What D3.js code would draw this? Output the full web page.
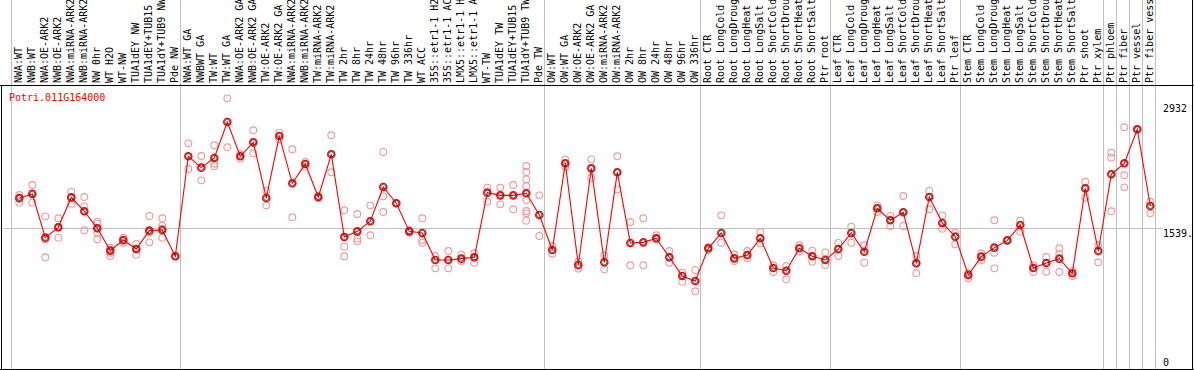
<!DOCTYPE html>
<html>
<head>
<meta charset="utf-8">
<script src="https://cdn.jsdelivr.net/npm/d3@7"></script>
<style>
  body { margin: 0; background: #fff; }
  svg { display: block; font-family: "DejaVu Sans Mono", monospace; font-size: 10px; }
</style>
</head>
<body>
<div id="chart"></div>
<script>
const W = 1194, H = 370;

const gene = "Potri.011G164000";

const labels = [
  "NWA:WT", "NWB:WT", "NWA:OE-ARK2", "NWB:OE-ARK2", "NWA:miRNA-ARK2", "NWB:miRNA-ARK2",
  "NW 0hr", "WT H2O", "WT-NW", "TUA1dEY NW", "TUA1dEY+TUB15", "TUA1dY+TUB9 NW", "Pde NW",
  "NWA:WT GA", "NWBWT GA", "TW:WT", "TW:WT GA", "NWA:OE-ARK2 GA", "NWB:OE-ARK2 GA",
  "TW:OE-ARK2", "TW:OE-ARK2 GA", "NWA:miRNA-ARK2", "NWB:miRNA-ARK2", "TW:miRNA-ARK2", "TW:miRNA-ARK2",
  "TW 2hr", "TW 8hr", "TW 24hr", "TW 48hr", "TW 96hr", "TW 336hr", "WT ACC",
  "35S::etr1-1 H2O", "35S::etr1-1 ACC", "LMX5::etr1-1 H2O", "LMX5::etr1-1 ACC",
  "WT-TW", "TUA1dEY TW", "TUA1dEY+TUB15", "TUA1dY+TUB9 TW", "Pde TW",
  "OW:WT", "OW:WT GA", "OW:OE-ARK2", "OW:OE-ARK2 GA", "OW:miRNA-ARK2", "OW:miRNA-ARK2",
  "OW 2hr", "OW 8hr", "OW 24hr", "OW 48hr", "OW 96hr", "OW 336hr",
  "Root CTR", "Root LongCold", "Root LongDrought", "Root LongHeat", "Root LongSalt",
  "Root ShortCold", "Root ShortDrought", "Root ShortHeat", "Root ShortSalt", "Ptr root",
  "Leaf CTR", "Leaf LongCold", "Leaf LongDrought", "Leaf LongHeat", "Leaf LongSalt",
  "Leaf ShortCold", "Leaf ShortDrought", "Leaf ShortHeat", "Leaf ShortSalt", "Ptr leaf",
  "Stem CTR", "Stem LongCold", "Stem LongDrought", "Stem LongHeat", "Stem LongSalt",
  "Stem ShortCold", "Stem ShortDrought", "Stem ShortHeat", "Stem ShortSalt", "Ptr shoot",
  "Ptr xylem", "Ptr phloem", "Ptr fiber", "Ptr vessel", "Ptr fiber vessel"
];

// number of samples in each group, separated by grey lines
const groupSizes = [13, 28, 12, 10, 10, 11, 1, 1, 1, 1];

const means = [
  1878, 1922, 1437, 1552, 1885, 1730, 1541, 1293, 1411, 1311, 1515, 1522, 1230,
  2341, 2215, 2322, 2722, 2341, 2496, 1878, 2567, 2041, 2256, 1889, 2363,
  1444, 1507, 1619, 2000, 1819, 1507, 1489, 1189, 1189, 1204, 1219,
  1937, 1907, 1907, 1930, 1689,
  1300, 2263, 1133, 2207, 1163, 2163, 1378, 1385, 1430, 1219, 1011, 956,
  1319, 1489, 1207, 1244, 1430, 1100, 1070, 1319, 1230, 1189,
  1311, 1489, 1281, 1763, 1630, 1719, 1152, 1889, 1600, 1448,
  1022, 1226, 1326, 1407, 1578, 1100, 1156, 1204, 1041, 1985, 1289,
  2141, 2263, 2641, 1789
];

const replicates = [
  [1911, 1870, 1826], [2022, 1930, 1826], [1674, 1419, 1219], [1652, 1552, 1437],
  [1948, 1881, 1815], [1889, 1785, 1519], [1615, 1593, 1493, 1419], [1322, 1270, 1233],
  [1437, 1400, 1381], [1367, 1307, 1248], [1678, 1493, 1385], [1652, 1567, 1537, 1437],
  [1230],
  [2485, 2200], [2344, 2074], [2463, 2259, 2230], [2985, 2441], [2363, 2315],
  [2630, 2374], [1956, 1796], [2604, 2530], [2419, 1663], [2278, 2226], [1900, 1878],
  [2574, 2163], [1741, 1337, 1230], [1700, 1426, 1396], [1796, 1463], [2389, 1896, 1722],
  [1819], [1522, 1493], [1652, 1411, 1381], [1233, 1096], [1289, 1096], [1248, 1178],
  [1263, 1159], [1993, 1837], [1993, 1807], [2022, 1752],
  [2233, 2167, 2085, 2011, 1856, 1733, 1707, 1626], [1907, 1456],
  [1344, 1259], [2307, 2226], [1170, 1093], [2307, 2100], [1241, 1085], [2341, 1974],
  [1611, 1130], [1652, 1130], [1463, 1419], [1289, 1159], [1048, 948], [1078, 841],
  [1333, 1300], [1685, 1381], [1252, 1178], [1289, 1207], [1500, 1374], [1130, 1056],
  [1122, 974], [1352, 1281], [1293, 1170], [1274, 1133],
  [1378, 1233], [1559, 1381], [1352, 1159], [1796, 1722], [1678, 1567], [1900, 1567],
  [1233, 1041], [1956, 1752], [1685, 1537], [1493, 1363],
  [1041, 985], [1263, 1189], [1630, 1270, 1096], [1407], [1626, 1504], [1130, 1056],
  [1222, 1059], [1319, 1252, 1056], [1067, 1011], [2059, 1881], [1352, 1163],
  [2381, 2326, 1730], [2663, 2130, 1996], [2641], [1833, 1707]
];

const axisTicks = [0, 1539, 2932];
const refLine = 1539;

const PLOT = {top: 86, bottom: 367, left: 11, right: 1155};

const x = d3.scaleBand()
  .domain(d3.range(labels.length))
  .range([PLOT.left, PLOT.right])
  .padding(0);

const y = d3.scaleLinear()
  .domain([0, 3122])
  .range([PLOT.bottom, PLOT.top]);

const px = i => x(i) + 8.3;

const svg = d3.select("#chart").append("svg")
  .attr("width", W)
  .attr("height", H);

svg.append("rect").attr("width", W).attr("height", H).attr("fill", "#fff");

// group separators
const bounds = [0];
groupSizes.forEach(n => bounds.push(bounds[bounds.length - 1] + n));
svg.append("g").selectAll("line")
  .data(bounds)
  .join("line")
  .attr("x1", d => Math.round(PLOT.left + d * x.bandwidth()) + 0.5)
  .attr("x2", d => Math.round(PLOT.left + d * x.bandwidth()) + 0.5)
  .attr("y1", 0).attr("y2", 369)
  .attr("stroke", "#c0c0c0");

// reference line
svg.append("line")
  .attr("x1", 0).attr("x2", 1163)
  .attr("y1", Math.round(y(refLine)) + 0.5).attr("y2", Math.round(y(refLine)) + 0.5)
  .attr("stroke", "#c0c0c0");

// frame
svg.append("line").attr("x1", 0).attr("x2", W).attr("y1", 85.5).attr("y2", 85.5).attr("stroke", "#000");
svg.append("line").attr("x1", 0).attr("x2", W).attr("y1", 369.5).attr("y2", 369.5).attr("stroke", "#000");
svg.append("line").attr("x1", 1.5).attr("x2", 1.5).attr("y1", 85).attr("y2", 370).attr("stroke", "#000");
svg.append("line").attr("x1", 1192.5).attr("x2", 1192.5).attr("y1", 0).attr("y2", 370).attr("stroke", "#000");

// sample labels, vertical, reading upward from the frame
svg.append("g").selectAll("text")
  .data(labels)
  .join("text")
  .attr("transform", (d, i) => `translate(${px(i) + 2.6},83) rotate(-90)`)
  .attr("text-anchor", "start")
  .attr("fill", "#000")
  .text(d => d);

// title
svg.append("text")
  .attr("x", 9).attr("y", 101)
  .attr("fill", "#ff0000")
  .text(gene);

// right axis values
const yAxis = d3.axisRight(y).tickValues(axisTicks).tickSize(0).tickFormat(d => d === refLine ? d + "." : d);
const ax = svg.append("g")
  .attr("transform", "translate(1163,0)")
  .call(yAxis);
ax.select(".domain").remove();
ax.selectAll("text")
  .attr("x", 0)
  .attr("dy", null)
  .attr("y", d => Math.min(8.3, 365.5 - y(d)))
  .attr("fill", "#000")
  .style("font-family", "'DejaVu Sans Mono', monospace")
  .style("font-size", "10px")
  .attr("text-anchor", "start");

// replicate points
const reps = [];
replicates.forEach((arr, i) => arr.forEach(v => reps.push({i, v})));
svg.append("g").selectAll("circle")
  .data(reps)
  .join("circle")
  .attr("cx", d => px(d.i))
  .attr("cy", d => y(d.v))
  .attr("r", 3.4)
  .attr("fill", "none")
  .attr("stroke", "#f09a9a")
  .attr("stroke-width", 1.1);

// mean line
const line = d3.line()
  .x((d, i) => px(i))
  .y(d => y(d));
svg.append("path")
  .datum(means)
  .attr("d", line)
  .attr("fill", "none")
  .attr("stroke", "#ff0000")
  .attr("stroke-width", 1.1);

// mean points
const mg = svg.append("g").selectAll("g")
  .data(means)
  .join("g")
  .attr("transform", (d, i) => `translate(${px(i)},${y(d)})`);
mg.append("circle")
  .attr("r", 3.6)
  .attr("fill", "none")
  .attr("stroke", "#ff0000")
  .attr("stroke-width", 1.4);
mg.append("circle")
  .attr("r", 2.6)
  .attr("fill", "none")
  .attr("stroke", "#000")
  .attr("stroke-width", 0.6);
</script>
</body>
</html>
